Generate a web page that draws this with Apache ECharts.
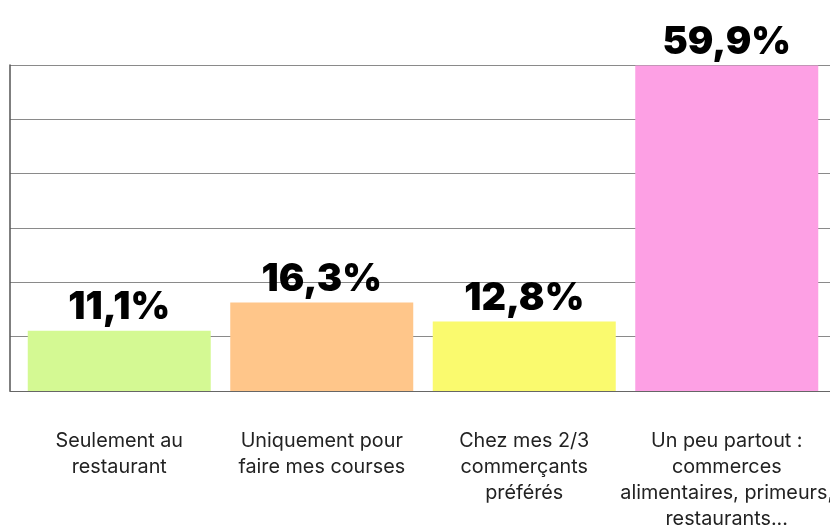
<!DOCTYPE html>
<html>
<head>
<meta charset="utf-8">
<script src="https://cdn.jsdelivr.net/npm/echarts@6/dist/echarts.min.js"></script>
<style>
  html, body { margin: 0; padding: 0; background: #fff; }
  #chart { width: 830px; height: 528px; }
</style>
</head>
<body>
<div id="chart"></div>
<script>
const categories = [
    'Seulement au\nrestaurant',
    'Uniquement pour\nfaire mes courses',
    'Chez mes 2/3\ncommerçants\npréférés',
    'Un peu partout :\ncommerces\nalimentaires, primeurs,\nrestaurants...'
];
const values = [11.1, 16.3, 12.8, 59.9];
const barColors = ['#d4f993', '#ffc68a', '#fafa6e', '#fda0e4'];

const chart = echarts.init(document.getElementById('chart'));

// grid 0 carries the frame and split lines, grid 1 carries the bars
chart.setOption({
    animation: false,
    grid: [
        { left: 10, right: 0, top: 65, bottom: 137, containLabel: false, outerBoundsMode: 'none' },
        { left: 18, right: 2, top: 65, bottom: 137, containLabel: false, outerBoundsMode: 'none' }
    ],
    xAxis: [
        {
            gridIndex: 0, type: 'category', data: categories,
            axisLine: { show: true, lineStyle: { color: '#666', width: 1 } },
            axisTick: { show: false }, axisLabel: { show: false }
        },
        {
            gridIndex: 1, type: 'category', data: categories,
            axisLine: { show: false }, axisTick: { show: false },
            axisLabel: {
                interval: 0,
                hideOverlap: false,
                margin: 37,
                color: '#222',
                fontSize: 19.8,
                lineHeight: 26,
                fontFamily: 'Inter',
                align: 'center'
            }
        }
    ],
    yAxis: [
        {
            gridIndex: 0, type: 'value', min: 0, max: 60, interval: 10,
            axisLine: { show: true, lineStyle: { color: '#555', width: 1.5 } },
            axisTick: { show: false }, axisLabel: { show: false },
            splitLine: { show: true, lineStyle: { color: '#8a8a8a', width: 1 } }
        },
        {
            gridIndex: 1, type: 'value', min: 0, max: 60, interval: 10,
            axisLine: { show: false }, axisTick: { show: false },
            axisLabel: { show: false }, splitLine: { show: false }
        }
    ],
    series: [{
        type: 'bar',
        xAxisIndex: 1,
        yAxisIndex: 1,
        barWidth: 183,
        data: values.map((v, i) => ({ value: v, itemStyle: { color: barColors[i] } })),
        label: {
            show: true,
            position: 'top',
            distance: 4,
            color: '#000',
            fontSize: 38,
            fontWeight: 900,
            fontFamily: 'Inter',
            formatter: p => p.value.toFixed(1).replace('.', ',') + '%'
        }
    }]
});
</script>
</body>
</html>
